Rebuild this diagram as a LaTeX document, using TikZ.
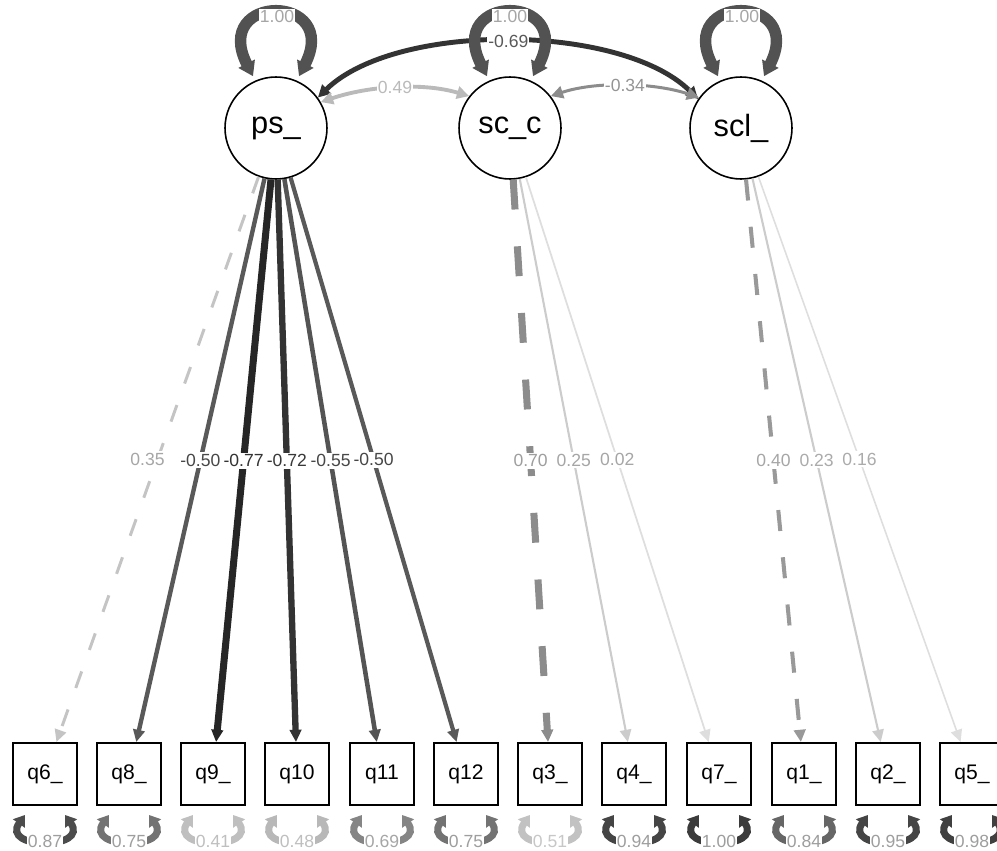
\documentclass[tikz,border=0pt]{standalone}
\usepackage{fontspec}
\setmainfont{Liberation Sans}
\usetikzlibrary{arrows.meta}

\begin{document}
\begin{tikzpicture}[x=0.02cm, y=-0.02cm,
    latent/.style={circle, draw, line width=0.9pt, fill=white, minimum size=2.04cm, inner sep=0pt, font=\fontsize{17.5}{20}\selectfont},
    manifest/.style={rectangle, draw, line width=1.1pt, fill=white, minimum width=1.28cm, minimum height=1.24cm, inner sep=0pt, font=\fontsize{12}{14}\selectfont},
    load/.style={-{Triangle[length=7pt,width=6.5pt]}},
    corr/.style={{Triangle[length=7pt,width=7pt]}-{Triangle[length=7pt,width=7pt]}},
    varloop/.style={{Triangle[length=8pt,width=10pt]}-{Triangle[length=8pt,width=10pt]}, line width=6.5pt, color=black!68},
    resid/.style={{Triangle[length=6pt,width=8pt]}-{Triangle[length=6pt,width=8pt]}, line width=4pt},
    lbl/.style={fill=white, inner sep=1pt, font=\fontsize{10}{12}\selectfont},
    rlbl/.style={lbl, inner xsep=0.5pt, inner ysep=3pt}]

        \useasboundingbox (0,0) rectangle (997,851);

        % factors
        \node[latent] (ps) at (276,128) {ps\_};
        \node[latent] (scc) at (510,128) {sc\_c};
        \node[latent] (scl) at (741,128) {scl\_};

        % items
        \node[manifest] (q6) at (45,774) {q6\_};
        \node[manifest] (q8) at (129,774) {q8\_};
        \node[manifest] (q9) at (213,774) {q9\_};
        \node[manifest] (q10) at (297,774) {q10};
        \node[manifest] (q11) at (382,774) {q11};
        \node[manifest] (q12) at (466,774) {q12};
        \node[manifest] (q3) at (550,774) {q3\_};
        \node[manifest] (q4) at (634,774) {q4\_};
        \node[manifest] (q7) at (719,774) {q7\_};
        \node[manifest] (q1) at (804,774) {q1\_};
        \node[manifest] (q2) at (888,774) {q2\_};
        \node[manifest] (q5) at (972,774) {q5\_};

        % covariances
        \draw[corr, line width=2.8pt, color=black!80] (ps.36) .. controls +(1.56cm,1.52cm) and +(-1.54cm,1.52cm) .. (scl.146) coordinate[pos=0.5] (m69);
        \draw[corr, line width=2.2pt, color=black!27] (ps.30) .. controls +(0.94cm,0.32cm) and +(-0.94cm,0.28cm) .. (scc.142) coordinate[pos=0.5] (m49);
        \draw[corr, line width=1.7pt, color=black!45] (scc.38) .. controls +(0.9cm,0.3cm) and +(-0.9cm,0.3cm) .. (scl.144) coordinate[pos=0.5] (m34);

        % factor variances
        \draw[varloop] ([xshift=-0.46cm]ps.north) .. controls +(-0.85cm,1.67cm) and +(0.85cm,1.67cm) .. ([xshift=0.46cm]ps.north);
        \draw[varloop] ([xshift=-0.46cm]scc.north) .. controls +(-0.85cm,1.67cm) and +(0.85cm,1.67cm) .. ([xshift=0.46cm]scc.north);
        \draw[varloop] ([xshift=-0.46cm]scl.north) .. controls +(-0.85cm,1.67cm) and +(0.85cm,1.67cm) .. ([xshift=0.46cm]scl.north);

        \node[lbl, text=black!35, inner sep=0.5pt] (vps) at (277,16) {1.00};
        \node[lbl, text=black!35, inner sep=0.5pt] (vscc) at (510,16) {1.00};
        \node[lbl, text=black!35, inner sep=0.5pt] (vscl) at (742,16) {1.00};
        \node[lbl, text=black!65, inner sep=0.5pt] (c69) at (m69) {-0.69};
        \node[lbl, text=black!27, inner sep=0.5pt] (c49) at (m49) {0.49};
        \node[lbl, text=black!42, inner sep=0.5pt] (c34) at (m34) {-0.34};

        % loadings ps_
        \draw[load, dash pattern=on 10pt off 13pt, line width=1.7pt, color=black!23] (ps) -- (q6) node[lbl, midway, xshift=-0.2cm, text=black!35] (l6) {0.35};
        \draw[load, line width=2.5pt, color=black!65] (ps) -- (q8) node[lbl, midway, text=black!72] (l8) {-0.50};
        \draw[load, line width=4pt, color=black!85] (ps) -- (q9) node[lbl, midway, text=black!80] (l9) {-0.77};
        \draw[load, line width=3.6pt, color=black!80] (ps) -- (q10) node[lbl, midway, text=black!78] (l10) {-0.72};
        \draw[load, line width=2.6pt, color=black!67] (ps) -- (q11) node[lbl, midway, text=black!72] (l11) {-0.55};
        \draw[load, line width=2.4pt, color=black!65] (ps) -- (q12) node[lbl, midway, text=black!72] (l12) {-0.50};

        % loadings sc_c
        \draw[load, dash pattern=on 17pt off 21pt, line width=4pt, color=black!45] (scc) -- (q3) node[lbl, midway, text=black!38] (l3) {0.70};
        \draw[load, line width=1.2pt, color=black!20] (scc) -- (q4) node[lbl, midway, text=black!35] (l4) {0.25};
        \draw[load, line width=1pt, color=black!13] (scc) -- (q7) node[lbl, midway, text=black!35] (l7) {0.02};

        % loadings scl_
        \draw[load, dash pattern=on 12pt off 15pt, line width=2.3pt, color=black!40] (scl) -- (q1) node[lbl, midway, text=black!35] (l1) {0.40};
        \draw[load, line width=1.2pt, color=black!20] (scl) -- (q2) node[lbl, midway, text=black!33] (l2) {0.23};
        \draw[load, line width=0.9pt, color=black!13] (scl) -- (q5) node[lbl, midway, text=black!33] (l5) {0.16};

        % residuals
        \draw[resid, color=black!70] ([xshift=-0.4cm,yshift=-0.18cm]q6.south) .. controls +(-0.5cm,-0.7cm) and +(0.5cm,-0.7cm) .. ([xshift=0.4cm,yshift=-0.18cm]q6.south);
        \draw[resid, color=black!55] ([xshift=-0.4cm,yshift=-0.18cm]q8.south) .. controls +(-0.5cm,-0.7cm) and +(0.5cm,-0.7cm) .. ([xshift=0.4cm,yshift=-0.18cm]q8.south);
        \draw[resid, color=black!25] ([xshift=-0.4cm,yshift=-0.18cm]q9.south) .. controls +(-0.5cm,-0.7cm) and +(0.5cm,-0.7cm) .. ([xshift=0.4cm,yshift=-0.18cm]q9.south);
        \draw[resid, color=black!28] ([xshift=-0.4cm,yshift=-0.18cm]q10.south) .. controls +(-0.5cm,-0.7cm) and +(0.5cm,-0.7cm) .. ([xshift=0.4cm,yshift=-0.18cm]q10.south);
        \draw[resid, color=black!48] ([xshift=-0.4cm,yshift=-0.18cm]q11.south) .. controls +(-0.5cm,-0.7cm) and +(0.5cm,-0.7cm) .. ([xshift=0.4cm,yshift=-0.18cm]q11.south);
        \draw[resid, color=black!55] ([xshift=-0.4cm,yshift=-0.18cm]q12.south) .. controls +(-0.5cm,-0.7cm) and +(0.5cm,-0.7cm) .. ([xshift=0.4cm,yshift=-0.18cm]q12.south);
        \draw[resid, color=black!24] ([xshift=-0.4cm,yshift=-0.18cm]q3.south) .. controls +(-0.5cm,-0.7cm) and +(0.5cm,-0.7cm) .. ([xshift=0.4cm,yshift=-0.18cm]q3.south);
        \draw[resid, color=black!73] ([xshift=-0.4cm,yshift=-0.18cm]q4.south) .. controls +(-0.5cm,-0.7cm) and +(0.5cm,-0.7cm) .. ([xshift=0.4cm,yshift=-0.18cm]q4.south);
        \draw[resid, color=black!77] ([xshift=-0.4cm,yshift=-0.18cm]q7.south) .. controls +(-0.5cm,-0.7cm) and +(0.5cm,-0.7cm) .. ([xshift=0.4cm,yshift=-0.18cm]q7.south);
        \draw[resid, color=black!60] ([xshift=-0.4cm,yshift=-0.18cm]q1.south) .. controls +(-0.5cm,-0.7cm) and +(0.5cm,-0.7cm) .. ([xshift=0.4cm,yshift=-0.18cm]q1.south);
        \draw[resid, color=black!73] ([xshift=-0.4cm,yshift=-0.18cm]q2.south) .. controls +(-0.5cm,-0.7cm) and +(0.5cm,-0.7cm) .. ([xshift=0.4cm,yshift=-0.18cm]q2.south);
        \draw[resid, color=black!75] ([xshift=-0.4cm,yshift=-0.18cm]q5.south) .. controls +(-0.5cm,-0.7cm) and +(0.5cm,-0.7cm) .. ([xshift=0.4cm,yshift=-0.18cm]q5.south);

        \node[rlbl, text=black!38] (r6) at (45,841) {0.87};
        \node[rlbl, text=black!38] (r8) at (129,841) {0.75};
        \node[rlbl, text=black!25] (r9) at (213,841) {0.41};
        \node[rlbl, text=black!25] (r10) at (297,841) {0.48};
        \node[rlbl, text=black!35] (r11) at (382,841) {0.69};
        \node[rlbl, text=black!38] (r12) at (466,841) {0.75};
        \node[rlbl, text=black!22] (r3) at (550,841) {0.51};
        \node[rlbl, text=black!38] (r4) at (634,841) {0.94};
        \node[rlbl, text=black!38] (r7) at (719,841) {1.00};
        \node[rlbl, text=black!38] (r1) at (804,841) {0.84};
        \node[rlbl, text=black!38] (r2) at (888,841) {0.95};
        \node[rlbl, text=black!38] (r5) at (972,841) {0.98};
    \end{tikzpicture}
\end{document}
